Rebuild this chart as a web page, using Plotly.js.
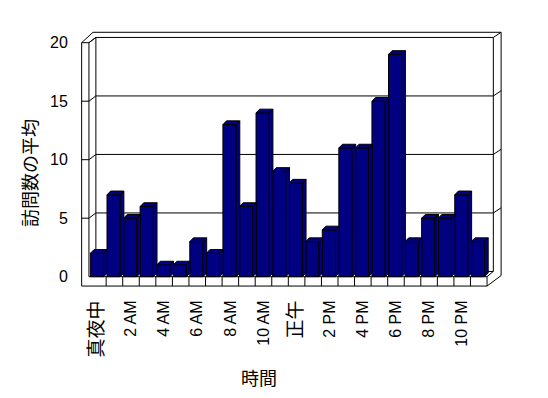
<!DOCTYPE html>
<html><head><meta charset="utf-8">
<script src="https://cdn.plot.ly/plotly-3.0.1.min.js"></script>
<style>html,body{margin:0;padding:0;background:#fff}#chart{width:548px;height:398px}</style>
</head><body><div id="chart"></div>
<script>
// ---- data ----
const categories = ["真夜中","1 AM","2 AM","3 AM","4 AM","5 AM","6 AM","7 AM","8 AM","9 AM","10 AM","11 AM",
                    "正午","1 PM","2 PM","3 PM","4 PM","5 PM","6 PM","7 PM","8 PM","9 PM","10 PM","11 PM"];
const visits = [2,7,5,6,1,1,3,2,13,6,14,9,8,3,4,11,11,15,19,3,5,5,7,3];
const yTickValues = [0,5,10,15,20];
const yTitle = "訪問数の平均";
const xTitle = "時間";

// ---- geometry / style ----
const L=80, R=502, T=30, B=288;
const pxX=16.56, pxY=11.7;
const xmin = -0.5 - (89.6-L)/pxX, xmax = xmin + (R-L)/pxX;
const ymin = -(B-276.7)/pxY, ymax = ymin + (B-T)/pxY;
const NAVY = '#000080';
const DX = 0.22, DY = 0.32;           // bar depth
const DXB = 0.42, DYB = 0.45;         // back wall depth
const xL0 = -0.98, xL1 = -0.54, xB0 = xL1 + DXB, xBR = 23.88, xOR = 24.35, xFR = 23.5;
const yFB = -0.8, yTopOut = 20.89, yMax = 20;
const FONT = 'Liberation Sans, Arial, "Noto Sans CJK JP", sans-serif';
const CJK = '"Noto Sans CJK JP", sans-serif';

const idx = visits.map((_, i) => i);

// 3D faces computed from the data values
const topX = [], topY = [], sideX = [], sideY = [];
idx.forEach(i => {
  const v = visits[i], a = i - 0.45, b = i + 0.35;
  topX.push(a, b, b + DX, a + DX, a, null);
  topY.push(v, v, v + DY, v + DY, v, null);
  sideX.push(b, b, b + DX, b + DX, b, null);
  sideY.push(0, v, v + DY, DY, 0, null);
});

const traces = [
  {type:'bar', x: idx, y: visits, offset: -0.45, width: 0.8,
   marker:{color: NAVY, line:{color:'#000', width:1}}, hoverinfo:'skip'},
  {type:'scatter', mode:'lines', x: sideX, y: sideY, fill:'toself', fillcolor: NAVY,
   line:{color:'#000', width:1}, hoverinfo:'skip'},
  {type:'scatter', mode:'lines', x: topX, y: topY, fill:'toself', fillcolor: NAVY,
   line:{color:'#000', width:1}, hoverinfo:'skip'}
];

// frame lines
const shapes = [];
function seg(x0,y0,x1,y1){ shapes.push({type:'line', xref:'x', yref:'y', x0, y0, x1, y1, layer:'below', line:{color:'#000', width:1}}); }
// left wall
seg(xL0, yFB, xL0, yMax);
seg(xL1, 0, xL1, yMax);
seg(xL0, yMax, -0.295, yTopOut);
seg(xL1, yMax, xB0, yMax + DYB);
// back wall
seg(xB0, DYB, xB0, yMax + DYB);
seg(xBR, DYB, xBR, yMax + DYB);
seg(-0.295, yTopOut, xOR, yTopOut);
seg(xOR, 0.1, xOR, yTopOut);
seg(xBR, yMax + DYB, xOR, yTopOut);
// gridlines + ticks on walls
yTickValues.forEach(v => {
  seg(xB0, v + DYB, xBR, v + DYB);
  if (v > 0) {
    seg(xL0, v, xL1, v);
    seg(xL1, v, xB0, v + DYB);
    if (v < yMax) seg(xBR, v + DYB, xOR, v + DYB + 0.44);
  }
});
// floor
seg(xL1, 0, xFR, 0);
seg(xL0, yFB, xFR, yFB);
seg(xFR, yFB, xFR, 0);
seg(xFR, yFB, xOR, 0.1);
seg(xFR, 0, xBR, DYB);
for (let k = 1; k < categories.length; k++) seg(k - 0.5, yFB, k - 0.5, 0);

const tickIdx = idx.filter(i => i % 2 === 0);
const tickText = tickIdx.map(i => /[^\x00-\x7F]/.test(categories[i])
  ? '<span style="font-family:' + CJK.replace(/"/g,"'") + ';font-size:19px">' + categories[i] + '</span>'
  : categories[i]);

const px2paperX = p => (p - L) / (R - L);
const px2paperY = p => (B - p) / (B - T);

const layout = {
  width: 548, height: 398,
  margin: {l: L, r: 548 - R, t: T, b: 398 - B, pad: 0},
  paper_bgcolor: '#fff', plot_bgcolor: '#fff',
  showlegend: false,
  font: {family: FONT, size: 16, color: '#000'},
  xaxis: {range: [xmin, xmax], showgrid: false, zeroline: false, showline: false,
          tickmode: 'array', tickvals: tickIdx, ticktext: tickText, tickangle: -90,
          ticks: 'outside', ticklen: 5, tickcolor: 'rgba(0,0,0,0)', tickfont: {size: 16}},
  yaxis: {range: [ymin, ymax], showgrid: false, zeroline: false, showline: false,
          tickmode: 'array', tickvals: yTickValues, ticktext: yTickValues.map(String),
          ticks: 'outside', ticklen: 8, tickcolor: 'rgba(0,0,0,0)', tickfont: {size: 16}},
  shapes: shapes,
  annotations: [
    {text: yTitle, xref: 'paper', yref: 'paper', x: px2paperX(28.5), y: px2paperY(173.5),
     xanchor: 'center', yanchor: 'middle', textangle: -90, showarrow: false,
     font: {family: CJK, size: 18, color: '#000'}},
    {text: xTitle, xref: 'paper', yref: 'paper', x: px2paperX(259), y: px2paperY(377),
     xanchor: 'center', yanchor: 'middle', showarrow: false,
     font: {family: CJK, size: 18, color: '#000'}}
  ]
};

Plotly.newPlot('chart', traces, layout, {staticPlot: true, displayModeBar: false});
</script>
</body></html>
